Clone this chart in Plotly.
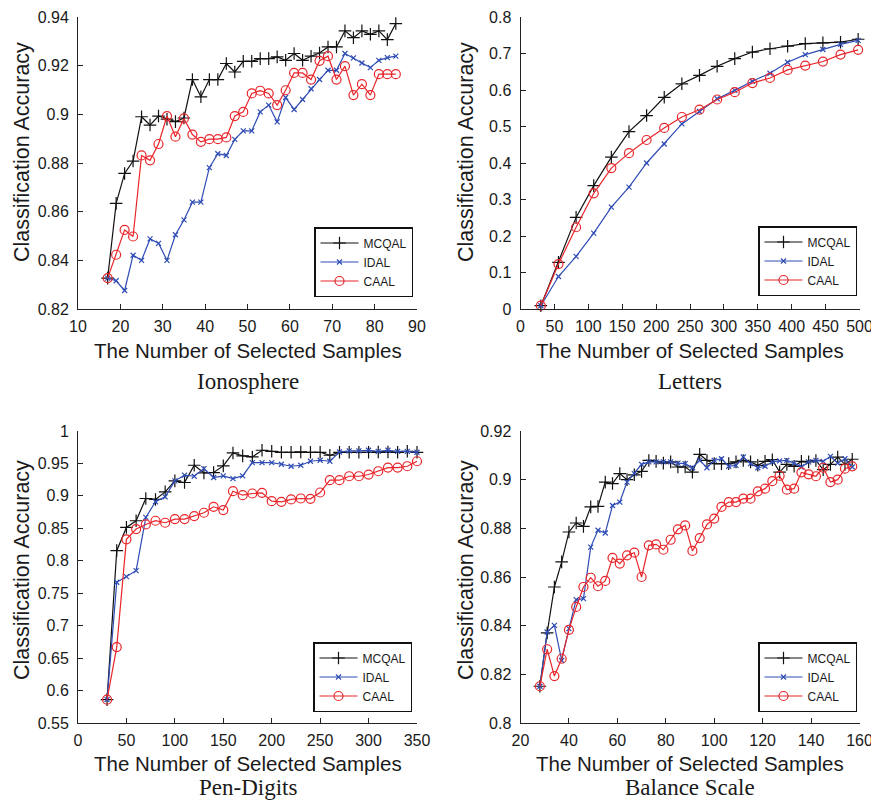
import plotly.graph_objects as go

# ---------------- data ----------------
iono_x = list(range(17, 86, 2))
iono_mcqal = [0.8327, 0.8634, 0.8757, 0.8808, 0.8990, 0.8956, 0.8993, 0.8980, 0.8970, 0.8985,
              0.9143, 0.9072, 0.9143, 0.9143, 0.9209, 0.9174, 0.9218, 0.9218, 0.9229, 0.9229,
              0.9236, 0.9222, 0.9250, 0.9222, 0.9239, 0.9252, 0.9277, 0.9277, 0.9343, 0.9315,
              0.9343, 0.9329, 0.9343, 0.9307, 0.9373]
iono_idal = [0.8327, 0.8316, 0.8276, 0.8421, 0.8400, 0.8488, 0.8470, 0.8400, 0.8505, 0.8566,
             0.8639, 0.8639, 0.8781, 0.8838, 0.8831, 0.8897, 0.8932, 0.8932, 0.9010, 0.9038,
             0.8969, 0.9069, 0.9020, 0.9061, 0.9105, 0.9143, 0.9181, 0.9181, 0.9250, 0.9232,
             0.9211, 0.9192, 0.9222, 0.9233, 0.9239]
iono_caal = [0.8327, 0.8423, 0.8525, 0.8498, 0.8831, 0.8811, 0.8878, 0.8993, 0.8908, 0.8983,
             0.8917, 0.8887, 0.8898, 0.8898, 0.8905, 0.8993, 0.9010, 0.9086, 0.9097, 0.9086,
             0.9038, 0.9099, 0.9170, 0.9170, 0.9143, 0.9220, 0.9239, 0.9143, 0.9198, 0.9079,
             0.9124, 0.9079, 0.9165, 0.9165, 0.9165]

letters_x = [30, 56, 82, 108, 134, 160, 186, 212, 238, 264, 290, 316, 342, 368, 394, 420, 446, 472, 498]
letters_mcqal = [0.009, 0.128, 0.251, 0.338, 0.416, 0.486, 0.530, 0.580, 0.617, 0.640,
                 0.665, 0.686, 0.704, 0.713, 0.720, 0.727, 0.729, 0.731, 0.739]
letters_idal = [0.009, 0.089, 0.144, 0.208, 0.279, 0.334, 0.400, 0.452, 0.507, 0.541,
                0.576, 0.599, 0.624, 0.646, 0.676, 0.697, 0.711, 0.725, 0.736]
letters_caal = [0.009, 0.123, 0.224, 0.317, 0.386, 0.427, 0.463, 0.496, 0.526, 0.546,
                0.574, 0.594, 0.619, 0.633, 0.655, 0.667, 0.678, 0.697, 0.710]

pen_x = list(range(30, 351, 10))
pen_mcqal = [0.586, 0.8156, 0.8514, 0.8617, 0.8960, 0.8945, 0.9062, 0.9232, 0.9206, 0.9472,
             0.9355, 0.9360, 0.9462, 0.9662, 0.9616, 0.9600, 0.9703, 0.9687, 0.9672, 0.9672,
             0.9677, 0.9672, 0.9672, 0.9626, 0.9672, 0.9672, 0.9672, 0.9672, 0.9677, 0.9677,
             0.9672, 0.9687, 0.9672]
pen_idal = [0.586, 0.7669, 0.7756, 0.7848, 0.8668, 0.8909, 0.8986, 0.9232, 0.9319, 0.9303,
            0.9421, 0.9283, 0.9308, 0.9267, 0.9308, 0.9513, 0.9513, 0.9513, 0.9488, 0.9457,
            0.9472, 0.9534, 0.9549, 0.9534, 0.9677, 0.9693, 0.9693, 0.9703, 0.9687, 0.9703,
            0.9687, 0.9687, 0.9672]
pen_caal = [0.586, 0.667, 0.833, 0.8489, 0.8560, 0.8617, 0.8586, 0.8642, 0.8642, 0.8689,
            0.8740, 0.8832, 0.8781, 0.9073, 0.9011, 0.9037, 0.9047, 0.8919, 0.8909, 0.8945,
            0.8960, 0.8955, 0.9052, 0.9242, 0.9242, 0.9303, 0.9303, 0.9329, 0.9380, 0.9436,
            0.9436, 0.9457, 0.9534]

bal_x = list(range(28, 158, 3))
bal_mcqal = [0.8151, 0.8370, 0.8559, 0.8662, 0.8785, 0.8822, 0.8808, 0.8888, 0.8890, 0.8990,
             0.8984, 0.9025, 0.9000, 0.9020, 0.9034, 0.9079, 0.9075, 0.9068, 0.9073, 0.9052,
             0.9052, 0.9031, 0.9104, 0.9079, 0.9066, 0.9066, 0.9066, 0.9073, 0.9079, 0.9073,
             0.9059, 0.9075, 0.9082, 0.9031, 0.9063, 0.9055, 0.9075, 0.9073, 0.9079, 0.9041,
             0.9063, 0.9093, 0.9063, 0.9084]
bal_idal = [0.8151, 0.8374, 0.8401, 0.8257, 0.8388, 0.8507, 0.8511, 0.8723, 0.8792, 0.8781,
            0.8894, 0.8908, 0.8990, 0.9025, 0.9063, 0.9073, 0.9073, 0.9073, 0.9073, 0.9068,
            0.9066, 0.9049, 0.9079, 0.9049, 0.9079, 0.9086, 0.9055, 0.9059, 0.9093, 0.9066,
            0.9049, 0.9055, 0.9073, 0.9077, 0.9079, 0.9068, 0.9052, 0.9073, 0.9079, 0.9075,
            0.9096, 0.9068, 0.9086, 0.9052]
bal_caal = [0.8151, 0.8303, 0.8193, 0.8264, 0.8383, 0.8477, 0.8559, 0.8597, 0.8562, 0.8584,
            0.8679, 0.8655, 0.8689, 0.8700, 0.8600, 0.8730, 0.8734, 0.8712, 0.8753, 0.8796,
            0.8812, 0.8707, 0.8760, 0.8816, 0.8840, 0.8888, 0.8908, 0.8908, 0.8922, 0.8922,
            0.8952, 0.8963, 0.8994, 0.9016, 0.8959, 0.8963, 0.9030, 0.9022, 0.9014, 0.9049,
            0.8990, 0.9000, 0.9045, 0.9055]

series_names = ["MCQAL", "IDAL", "CAAL"]
captions = ["Ionosphere", "Letters", "Pen-Digits", "Balance Scale"]
x_title = "The Number of Selected Samples"
y_title = "Classification Accuracy"

iono_xticks = [10, 20, 30, 40, 50, 60, 70, 80, 90]
iono_yticks = [0.82, 0.84, 0.86, 0.88, 0.90, 0.92, 0.94]
iono_ytext = ["0.82", "0.84", "0.86", "0.88", "0.9", "0.92", "0.94"]
letters_xticks = [0, 50, 100, 150, 200, 250, 300, 350, 400, 450, 500]
letters_yticks = [0, 0.1, 0.2, 0.3, 0.4, 0.5, 0.6, 0.7, 0.8]
letters_ytext = ["0", "0.1", "0.2", "0.3", "0.4", "0.5", "0.6", "0.7", "0.8"]
pen_xticks = [0, 50, 100, 150, 200, 250, 300, 350]
pen_yticks = [0.55, 0.6, 0.65, 0.7, 0.75, 0.8, 0.85, 0.9, 0.95, 1.0]
pen_ytext = ["0.55", "0.6", "0.65", "0.7", "0.75", "0.8", "0.85", "0.9", "0.95", "1"]
bal_xticks = [20, 40, 60, 80, 100, 120, 140, 160]
bal_yticks = [0.8, 0.82, 0.84, 0.86, 0.88, 0.9, 0.92]
bal_ytext = ["0.8", "0.82", "0.84", "0.86", "0.88", "0.9", "0.92"]

# ---------------- style ----------------
OFF = 8                      # page body margin of the viewer
W, H = 879 - OFF, 800 - OFF  # figure size so that it fills the window


def fx(px):
    return (px - OFF) / W


def fy(py):
    return 1 - (py - OFF) / H


colors = ["#111111", "#2f4cb5", "#e8262b"]
symbols = ["cross-thin", "x-thin", "circle-open"]
msizes = [9, 5, 9]
SANS = "Liberation Sans, Arial, sans-serif"
SERIF = "Liberation Serif, Times New Roman, serif"

left_dom = [fx(78), fx(417)]
right_dom = [fx(520.5), fx(859.5)]
top_dom = [fy(309), fy(17)]
bot_dom = [fy(723), fy(431)]

panels = [
    dict(x=iono_x, ys=[iono_mcqal, iono_idal, iono_caal], xr=[10, 90], yr=[0.82, 0.94],
         xt=iono_xticks, yt=iono_yticks, ytt=iono_ytext, xd=left_dom, yd=top_dom),
    dict(x=letters_x, ys=[letters_mcqal, letters_idal, letters_caal], xr=[0, 500], yr=[0, 0.8],
         xt=letters_xticks, yt=letters_yticks, ytt=letters_ytext, xd=right_dom, yd=top_dom),
    dict(x=pen_x, ys=[pen_mcqal, pen_idal, pen_caal], xr=[0, 350], yr=[0.55, 1.0],
         xt=pen_xticks, yt=pen_yticks, ytt=pen_ytext, xd=left_dom, yd=bot_dom),
    dict(x=bal_x, ys=[bal_mcqal, bal_idal, bal_caal], xr=[20, 160], yr=[0.8, 0.92],
         xt=bal_xticks, yt=bal_yticks, ytt=bal_ytext, xd=right_dom, yd=bot_dom),
]
legend_pos = [(fx(413), fy(297)), (fx(857), fy(296)),
              (fx(412), fy(712)), (fx(857), fy(712))]

fig = go.Figure()
layout = dict(width=W, height=H, margin=dict(l=0, r=0, t=0, b=0, pad=0, autoexpand=False),
              paper_bgcolor="white", plot_bgcolor="white", showlegend=True,
              font=dict(family=SANS, color="#1a1a1a"))
annotations = []

for i, p in enumerate(panels):
    k = "" if i == 0 else str(i + 1)
    leg = "legend" if i == 0 else "legend" + str(i + 1)
    for j in range(3):
        fig.add_trace(go.Scatter(
            x=p["x"], y=p["ys"][j], name=series_names[j], mode="lines+markers",
            xaxis="x" + k, yaxis="y" + k, legend=leg, cliponaxis=False,
            line=dict(color=colors[j], width=1.2),
            marker=dict(symbol=symbols[j], size=msizes[j], color=colors[j],
                        line=dict(color=colors[j], width=1.2)),
        ))
    axis_common = dict(showgrid=False, zeroline=False, showline=True, linecolor="#222222",
                       linewidth=1, ticks="inside", ticklen=5, tickcolor="#222222",
                       automargin=False,
                       tickfont=dict(family=SANS, size=16, color="#1a1a1a"))
    layout["xaxis" + k] = dict(axis_common, domain=p["xd"], range=p["xr"], anchor="y" + k,
                               tickmode="array", tickvals=p["xt"],
                               ticktext=[str(v) for v in p["xt"]], ticklabelstandoff=3)
    layout["yaxis" + k] = dict(axis_common, domain=p["yd"], range=p["yr"], anchor="x" + k,
                               tickmode="array", tickvals=p["yt"], ticktext=p["ytt"],
                               ticklabelstandoff=5)
    lx, ly = legend_pos[i]
    layout[leg] = dict(x=lx, y=ly, xanchor="right", yanchor="bottom",
                       bgcolor="white", bordercolor="#111111", borderwidth=1.5,
                       font=dict(family=SANS, size=12, color="#1a1a1a"),
                       tracegroupgap=0, itemwidth=38)

    xc = (p["xd"][0] + p["xd"][1]) / 2
    top = p["yd"] is top_dom
    # x-axis title
    annotations.append(dict(text=x_title, x=xc, y=fy(350 if top else 763),
                            xref="paper", yref="paper", showarrow=False,
                            font=dict(family=SANS, size=20.5, color="#1a1a1a"),
                            xanchor="center", yanchor="middle"))
    # caption
    annotations.append(dict(text=captions[i], x=xc, y=fy(381 if top else 787),
                            xref="paper", yref="paper", showarrow=False,
                            font=dict(family=SERIF, size=23, color="#1a1a1a"),
                            xanchor="center", yanchor="middle"))
    # y-axis title
    ytx = fx(22 if p["xd"] is left_dom else 466)
    yty = fy(152 if top else 570)
    annotations.append(dict(text=y_title, x=ytx, y=yty, xref="paper", yref="paper",
                            showarrow=False, textangle=-90,
                            font=dict(family=SANS, size=21.5, color="#1a1a1a"),
                            xanchor="center", yanchor="middle"))

layout["annotations"] = annotations
fig.update_layout(**layout)
fig.write_html("out.html")
